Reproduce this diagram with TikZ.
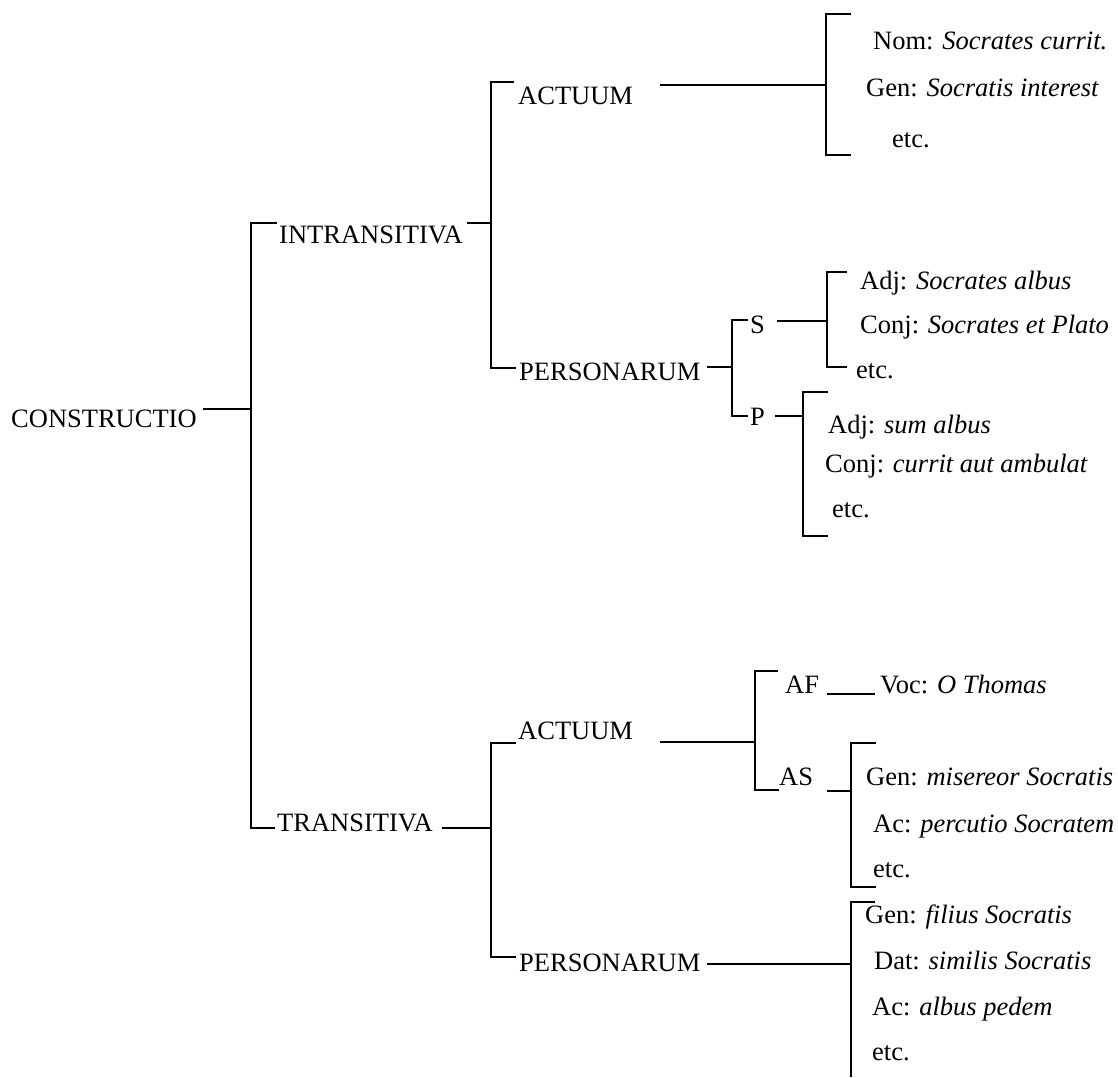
\documentclass[tikz,border=0pt]{standalone}
\usepackage{fontspec}
\setmainfont{Liberation Serif}
\begin{document}
\begin{tikzpicture}[x=1pt,y=-1pt,
  lbl/.style={anchor=base west,inner sep=0pt,font=\fontsize{26.5}{30}\selectfont},
  br/.style={line width=2pt}]
\useasboundingbox (0,0) rectangle (1118,1077);
% labels
\node[lbl] (constr) at (11,427) {CONSTRUCTIO};
\node[lbl] (intr) at (279,243) {INTRANSITIVA};
\node[lbl] (actA) at (518,104) {ACTUUM};
\node[lbl] (nom) at (873,49) {Nom: \textit{Socrates currit.}};
\node[lbl] (genA) at (866,96) {Gen: \textit{Socratis interest}};
\node[lbl] (etcA) at (892,147) {etc.};
\node[lbl] (persA) at (519,380) {PERSONARUM};
\node[lbl] (S) at (750,333) {S};
\node[lbl] (adjS) at (860,289) {Adj: \textit{Socrates albus}};
\node[lbl] (conjS) at (860,333) {Conj: \textit{Socrates et Plato}};
\node[lbl] (etcS) at (856,378) {etc.};
\node[lbl] (P) at (750,425) {P};
\node[lbl] (adjP) at (828,433) {Adj: \textit{sum albus}};
\node[lbl] (conjP) at (825,472) {Conj: \textit{currit aut ambulat}};
\node[lbl] (etcP) at (832,517) {etc.};
\node[lbl] (tr) at (277,831) {TRANSITIVA};
\node[lbl] (actB) at (518,739) {ACTUUM};
\node[lbl] (AF) at (785,693) {AF};
\node[lbl] (voc) at (880,693) {Voc: \textit{O Thomas}};
\node[lbl] (AS) at (779,785) {AS};
\node[lbl] (genB) at (866,785) {Gen: \textit{misereor Socratis}};
\node[lbl] (acB) at (873,832) {Ac: \textit{percutio Socratem}};
\node[lbl] (etcB) at (873,877) {etc.};
\node[lbl] (persB) at (519,971) {PERSONARUM};
\node[lbl] (genC) at (865,923) {Gen: \textit{filius Socratis}};
\node[lbl] (datC) at (874,969) {Dat: \textit{similis Socratis}};
\node[lbl] (acC) at (872,1015) {Ac: \textit{albus pedem}};
\node[lbl] (etcC) at (872,1060) {etc.};
% connectors
\draw[br] (203,409) -- (251,409);
\draw[br] (277,223) -- (251,223) -- (251,828) -- (275,828);
\draw[br] (467,223) -- (491,223);
\draw[br] (514,82) -- (491,82) -- (491,368) -- (516,368);
\draw[br] (660,85) -- (826,85);
\draw[br] (851,14) -- (826,14) -- (826,155) -- (851,155);
\draw[br] (707,367) -- (732,367);
\draw[br] (748,320) -- (732,320) -- (732,416) -- (748,416);
\draw[br] (777,321) -- (827,321);
\draw[br] (847,272) -- (827,272) -- (827,367) -- (847,367);
\draw[br] (775,416) -- (803,416);
\draw[br] (828,392) -- (803,392) -- (803,536) -- (828,536);
\draw[br] (442,828) -- (491,828);
\draw[br] (516,743) -- (491,743) -- (491,957) -- (516,957);
\draw[br] (660,742) -- (755,742);
\draw[br] (778,671) -- (755,671) -- (755,790) -- (779,790);
\draw[br] (827,694) -- (875,694);
\draw[br] (827,791) -- (851,791);
\draw[br] (876,743) -- (851,743) -- (851,887) -- (876,887);
\draw[br] (707,964) -- (851,964);
\draw[br] (875,902) -- (851,902) -- (851,1077);
\end{tikzpicture}
\end{document}
